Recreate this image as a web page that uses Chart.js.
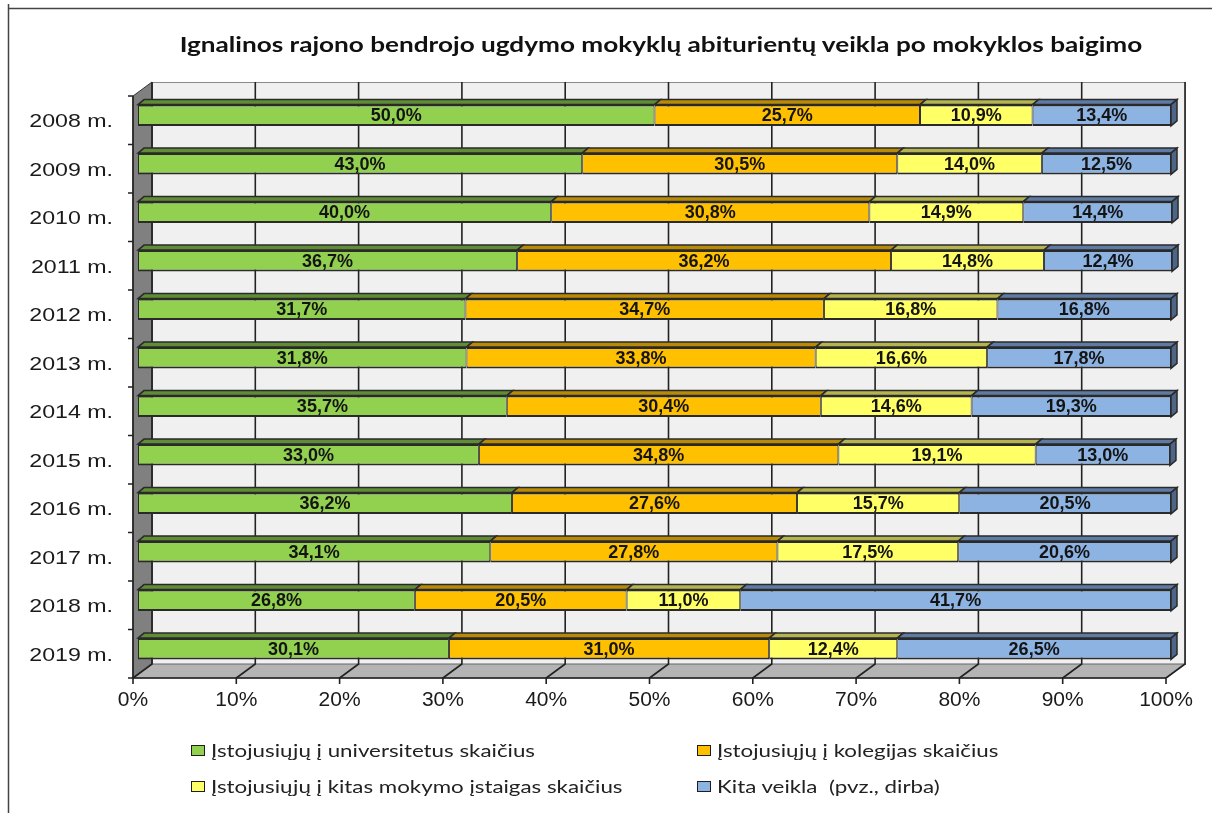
<!DOCTYPE html>
<html lang="lt">
<head>
<meta charset="utf-8">
<title>Abiturientų veikla</title>
<script src="https://cdn.jsdelivr.net/npm/chart.js@4.4.1/dist/chart.umd.min.js"></script>
<style>
  html, body { margin: 0; padding: 0; background: #fff; }
  #wrap { position: relative; width: 1212px; height: 813px; overflow: hidden; }
  #chart { position: absolute; left: 0; top: 0; }
  #title {
    position: absolute; left: 0; width: 1322px; top: 31px;
    text-align: center; font: bold 21px Lato, sans-serif; color: #111;
    transform: scaleX(1.245); transform-origin: 661px 0;
    white-space: nowrap;
  }
  .leg {
    position: absolute; display: flex; align-items: center;
    font: 18px Lato, sans-serif; color: #222; white-space: pre;
  }
  .leg i {
    display: inline-block; width: 12px; height: 9px; margin-right: 6px;
    border: 1.5px solid #1e1e1e;
  }
  .leg span { display: inline-block; transform: scaleX(1.24); transform-origin: 0 50%; }
</style>
</head>
<body>
<div id="wrap">
  <canvas id="chart" width="1212" height="813"></canvas>
  <div id="title">Ignalinos rajono bendrojo ugdymo mokyklų abiturientų veikla po mokyklos baigimo</div>
  <div id="legend"></div>
</div>
<script>
// years on the vertical axis, top to bottom
const years = ['2008 m.', '2009 m.', '2010 m.', '2011 m.', '2012 m.', '2013 m.',
               '2014 m.', '2015 m.', '2016 m.', '2017 m.', '2018 m.', '2019 m.'];

// shares in percent
const universitetai = [50.0, 43.0, 40.0, 36.7, 31.7, 31.8, 35.7, 33.0, 36.2, 34.1, 26.8, 30.1];
const kolegijos     = [25.7, 30.5, 30.8, 36.2, 34.7, 33.8, 30.4, 34.8, 27.6, 27.8, 20.5, 31.0];
const kitosIstaigos = [10.9, 14.0, 14.9, 14.8, 16.8, 16.6, 14.6, 19.1, 15.7, 17.5, 11.0, 12.4];
const kitaVeikla    = [13.4, 12.5, 14.4, 12.4, 16.8, 17.8, 19.3, 13.0, 20.5, 20.6, 41.7, 26.5];

const xTicks = [0, 10, 20, 30, 40, 50, 60, 70, 80, 90, 100];

const seriesNames = [
  'Įstojusiųjų į universitetus skaičius',
  'Įstojusiųjų į kolegijas skaičius',
  'Įstojusiųjų į kitas mokymo įstaigas skaičius',
  'Kita veikla  (pvz., dirba)'
];
const fills = ['#92d050', '#ffc000', '#ffff66', '#8db3e2'];
const tops  = ['#5f8c34', '#b88a06', '#b4b450', '#5d7ba3'];
const endFace = '#4d6587';

// fake 3d: bars sit a few px into the box, walls are 19px deep
const BAR = { x: 6, y: -5 };
const OFF = { x: -5, y: 5 };
const WALL = { x: 19, y: -14 };

const fmt = v => v.toFixed(1).replace('.', ',') + '%';

// text drawn a bit wider than the font
function wideText(ctx, txt, x, y, sx) {
  ctx.save();
  ctx.translate(x, y);
  ctx.scale(sx, 1);
  ctx.fillText(txt, 0, 0);
  ctx.restore();
}

const box3d = {
  id: 'box3d',
  beforeDatasetsDraw(chart) {
    const { ctx, chartArea: a, scales: { x } } = chart;
    const l = a.left + OFF.x, r = a.right + OFF.x;
    const t = a.top + OFF.y, b = a.bottom + OFF.y;
    ctx.save();
    // back wall
    ctx.fillStyle = '#f0f0f0';
    ctx.fillRect(l + WALL.x, t + WALL.y, r - l, b - t);
    ctx.strokeStyle = '#8a8a8a';
    ctx.lineWidth = 1;
    ctx.strokeRect(l + WALL.x + 0.5, t + WALL.y + 0.5, r - l, b - t);
    // floor
    ctx.fillStyle = '#b4b4b4';
    ctx.beginPath();
    ctx.moveTo(l, b); ctx.lineTo(r, b);
    ctx.lineTo(r + WALL.x, b + WALL.y); ctx.lineTo(l + WALL.x, b + WALL.y);
    ctx.closePath(); ctx.fill();
    ctx.strokeStyle = '#666'; ctx.stroke();
    // left wall
    ctx.fillStyle = '#808080';
    ctx.beginPath();
    ctx.moveTo(l, t); ctx.lineTo(l + WALL.x, t + WALL.y);
    ctx.lineTo(l + WALL.x, b + WALL.y); ctx.lineTo(l, b);
    ctx.closePath(); ctx.fill();
    ctx.strokeStyle = '#333'; ctx.stroke();
    // grid lines: back wall + floor + ticks
    ctx.strokeStyle = '#222';
    ctx.lineWidth = 1.6;
    xTicks.forEach(v => {
      const px = x.getPixelForValue(v) + OFF.x;
      ctx.beginPath();
      ctx.moveTo(px + WALL.x, t + WALL.y);
      ctx.lineTo(px + WALL.x, b + WALL.y);
      ctx.lineTo(px, b);
      ctx.lineTo(px, b + 6);
      ctx.stroke();
    });
    // front axis line and category ticks
    ctx.beginPath();
    ctx.moveTo(l, t); ctx.lineTo(l, b); ctx.lineTo(r, b);
    const band = (b - t) / years.length;
    for (let i = 0; i <= years.length; i++) {
      ctx.moveTo(l - 5, t + i * band); ctx.lineTo(l, t + i * band);
    }
    ctx.stroke();
    ctx.restore();
  },
  afterDatasetsDraw(chart) {
    const { ctx, chartArea: a, scales: { x, y } } = chart;
    ctx.save();
    ctx.lineWidth = 1.5;
    ctx.strokeStyle = '#2a2a2a';
    const last = chart.data.datasets.length - 1;
    chart.data.datasets.forEach((ds, di) => {
      chart.getDatasetMeta(di).data.forEach(bar => {
        const { x: right, y: cy, base: left, height } = bar.getProps(['x', 'y', 'base', 'height'], true);
        const top = cy - height / 2, bottom = cy + height / 2;
        ctx.fillStyle = tops[di];
        ctx.beginPath();
        ctx.moveTo(left, top); ctx.lineTo(left + BAR.x, top + BAR.y);
        ctx.lineTo(right + BAR.x, top + BAR.y); ctx.lineTo(right, top);
        ctx.closePath(); ctx.fill(); ctx.stroke();
        if (di === last) {
          ctx.fillStyle = endFace;
          ctx.beginPath();
          ctx.moveTo(right, top); ctx.lineTo(right + BAR.x, top + BAR.y);
          ctx.lineTo(right + BAR.x, bottom + BAR.y); ctx.lineTo(right, bottom);
          ctx.closePath(); ctx.fill(); ctx.stroke();
        }
      });
    });

    // value labels
    ctx.font = 'bold 18px "Liberation Sans", Arial, sans-serif';
    ctx.fillStyle = '#141414';
    ctx.textAlign = 'center';
    ctx.textBaseline = 'middle';
    chart.data.datasets.forEach((ds, di) => {
      chart.getDatasetMeta(di).data.forEach((bar, i) => {
        const p = bar.getCenterPoint();
        ctx.fillText(fmt(ds.data[i]), p.x, p.y + 1);
      });
    });

    // category labels
    ctx.font = '19px "Liberation Sans", Arial, sans-serif';
    ctx.fillStyle = '#1a1a1a';
    ctx.textAlign = 'right';
    years.forEach((lab, i) => {
      wideText(ctx, lab, a.left + OFF.x - 20, y.getPixelForValue(i) + OFF.y + 2, 1.22);
    });

    // percent ticks
    ctx.font = '20px "Liberation Sans", Arial, sans-serif';
    ctx.textAlign = 'center';
    xTicks.forEach(v => {
      wideText(ctx, v + '%', x.getPixelForValue(v) + OFF.x, a.bottom + OFF.y + 22, 1.05);
    });

    // outer frame
    ctx.strokeStyle = '#444';
    ctx.lineWidth = 1.5;
    ctx.beginPath();
    ctx.moveTo(8.5, 4); ctx.lineTo(8.5, 813);
    ctx.moveTo(8, 8.5); ctx.lineTo(1212, 8.5);
    ctx.stroke();
    ctx.restore();
  }
};

const seriesData = [universitetai, kolegijos, kitosIstaigos, kitaVeikla];

new Chart(document.getElementById('chart'), {
  type: 'bar',
  data: {
    labels: years,
    datasets: seriesData.map((d, i) => ({
      label: seriesNames[i],
      data: d,
      backgroundColor: fills[i],
      borderColor: '#2a2a2a',
      borderWidth: { top: 2, bottom: 2, left: 1, right: 1 },
      borderSkipped: false,
      barPercentage: 0.44,
      categoryPercentage: 1,
      clip: false
    }))
  },
  options: {
    indexAxis: 'y',
    responsive: false,
    animation: false,
    layout: { padding: { left: 138, right: 41, top: 91, bottom: 140 } },
    scales: {
      x: { stacked: true, min: 0, max: 100, display: false },
      y: { stacked: true, display: false }
    },
    plugins: {
      legend: { display: false },
      tooltip: { enabled: false }
    }
  },
  plugins: [box3d]
});

// legend, two columns by two rows
const legend = document.getElementById('legend');
const legPos = [[191, 739], [697, 739], [191, 775], [697, 775]];
seriesNames.forEach((name, i) => {
  const item = document.createElement('div');
  item.className = 'leg';
  item.style.left = legPos[i][0] + 'px';
  item.style.top = legPos[i][1] + 'px';
  const sw = document.createElement('i');
  sw.style.background = fills[i];
  const txt = document.createElement('span');
  txt.textContent = name;
  item.appendChild(sw);
  item.appendChild(txt);
  legend.appendChild(item);
});
</script>
</body>
</html>
